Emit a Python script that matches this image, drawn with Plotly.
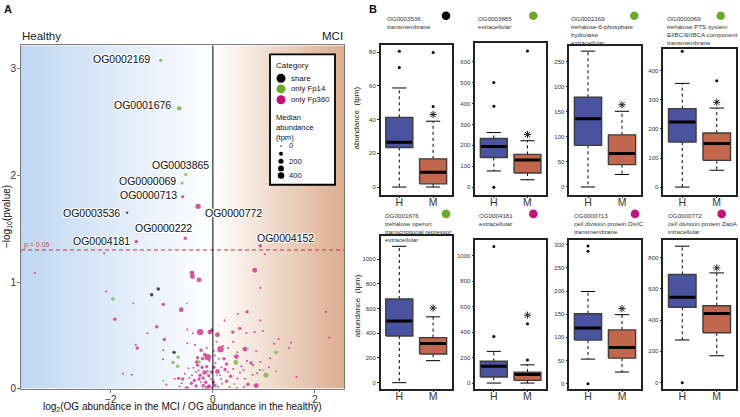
import numpy as np
import plotly.graph_objects as go

W, H = 740, 417
FONT = "Liberation Sans, Arial, Helvetica, sans-serif"


def fx(px):
    return px / W


def fy(py):
    return 1 - py / H


# ---------------- Panel A data ----------------
lab_ids = ["OG0002169", "OG0001676", "OG0003865", "OG0000069", "OG0000713",
           "OG0000772", "OG0003536", "OG0000222", "OG0004181", "OG0004152"]
lab_fc = [-1.02, -0.66, -0.53, -0.60, -0.59, -0.29, -1.68, -0.54, -1.50, 0.93]
lab_p = [3.08, 2.63, 2.01, 1.93, 1.80, 1.71, 1.65, 1.41, 1.38, 1.34]
lab_cat = ["Fp14", "Fp14", "Fp14", "Fp14", "Fp360", "Fp360", "share", "Fp360", "Fp360", "Fp360"]
lab_med = [60, 180, 40, 40, 40, 250, 10, 60, 60, 60]

bg_fc = [-3.77, -3.77, -2.13, 1.02, -3.49, -0.41, -0.40, -0.27, 0.82, 0.93,
         -1.07, -1.20, -2.09, -1.96, -1.56, -0.97, -0.51, -0.62, 0.49, 0.67,
         2.22, -1.92, 0.23, 0.93, -1.10, -0.02, -0.50, -1.28, -0.25, -0.06,
         0.09, -0.39, 0.39, 0.53, 0.66, 0.82, 0.98, 2.28, 1.29, 1.20,
         1.53, -0.95, 0.07, -1.51, -0.50, -0.35, 0.20, 0.15, -1.48, -0.97,
         -0.76, 1.24, 1.49, 0.63, 0.48, 0.85, -0.23, -0.16, -0.68, -0.98,
         -0.30, -0.10, 0.22, 0.46, -0.78, -0.27, 0.45, 0.67, 0.75, 0.27,
         -0.30, -0.21, -0.12, 0.05, -0.69, -0.48, -0.38, 0.99, 1.24, 1.04,
         0.92, 0.60, 0.24, 0.09, -1.76, -1.59, -0.16, -0.10, -0.25, 0.53,
         0.78, 0.87, 0.08, 1.64, 0.35, 0.48, 0.63, -0.97, -0.75, -0.67,
         -0.59, -0.46, -0.36, -0.27, -0.19, -0.04, 0.16, 0.27, 0.42, 0.69,
         0.85, -0.91, -0.65, -0.51, -0.33, -0.19, -0.11, -0.07, 0.04, 0.10,
         0.18, 0.33, 0.47, 0.61, -0.20, -0.02, -0.42, -0.61, -0.28, -0.32,
         -0.20, -0.07, 0.02, -0.03, -0.08, 0.01, -0.14, -0.235, 0.14, 0.30,
         0.40, 0.17, -0.33, -0.55, -0.41, -0.12, 0.02, 0.04, 0.12, 0.40,
         0.30, 0.56, 0.79, 0.93, 1.10, 1.12]
bg_p = [1.28, 1.14, 1.27, 1.26, 1.085, 1.085, 1.05, 1.02, 1.11, 0.945,
        0.935, 0.88, 0.91, 0.84, 0.80, 0.79, 0.80, 0.74, 0.70, 0.72,
        0.72, 0.65, 0.64, 0.64, 0.58, 0.55, 0.555, 0.52, 0.53, 0.53,
        0.505, 0.52, 0.53, 0.565, 0.52, 0.53, 0.54, 0.48, 0.465, 0.42,
        0.43, 0.46, 0.44, 0.41, 0.425, 0.41, 0.40, 0.37, 0.38, 0.36,
        0.34, 0.34, 0.38, 0.37, 0.34, 0.35, 0.36, 0.32, 0.295, 0.275,
        0.29, 0.295, 0.28, 0.30, 0.245, 0.25, 0.245, 0.26, 0.24, 0.23,
        0.22, 0.20, 0.205, 0.24, 0.21, 0.19, 0.195, 0.175, 0.16, 0.125,
        0.175, 0.175, 0.18, 0.16, 0.14, 0.13, 0.15, 0.165, 0.125, 0.15,
        0.13, 0.145, 0.125, 0.11, 0.115, 0.095, 0.093, 0.074, 0.093, 0.096,
        0.09, 0.099, 0.077, 0.09, 0.10, 0.087, 0.09, 0.07, 0.043, 0.04,
        0.028, 0.037, 0.021, 0.0, 0.025, 0.03, 0.006, 0.025, 0.03, 0.018,
        0.046, 0.015, 0.006, 0.015, 0.0, 0.0, 0.05, 0.05, 0.17, 0.25,
        0.28, 0.26, 0.20, 0.155, 0.12, 0.06, 0.06, 0.06, 0.125, 0.155,
        0.185, 0.20, 0.155, 0.14, 0.125, 0.38, 0.355, 0.31, 0.28, 0.44,
        0.38, 0.21, 0.22, 0.25, 0.20, 0.285]
bg_cat = list("mgmmmmmmmm"
              "kkmgmmgmmm"
              "mmmmmmmmmm"
              "mmmmmmmmmm"
              "mmmmmmmmmm"
              "kgmmmmmmgm"
              "mmmmgggmmm"
              "mmmmgmmggg"
              "mmmmmmmmmm"
              "mmgmmmmgmm"
              "mmmmmmmmgm"
              "mmmmmmmmmm"
              "mmmmmmmmmm"
              "mmmmmmmmmm"
              "mmmmmmmmmm"
              "mmmmmm")
bg_med = [5, 5, 5, 5, 5, 180, 180, 180, 180, 5,
          60, 60, 5, 60, 5, 60, 5, 180, 5, 60,
          5, 60, 5, 5, 60, 60, 5, 5, 380, 180,
          180, 5, 60, 60, 5, 5, 5, 5, 5, 5,
          5, 60, 5, 5, 5, 5, 5, 380, 60, 5,
          60, 60, 5, 180, 5, 5, 60, 60, 60, 5,
          60, 380, 60, 180, 60, 60, 180, 5, 60, 60,
          60, 60, 60, 5, 60, 5, 5, 5, 5, 180,
          5, 5, 60, 180, 5, 5, 180, 5, 60, 5,
          5, 5, 5, 5, 60, 5, 5, 5, 5, 60,
          60, 5, 60, 60, 60, 5, 5, 60, 5, 60,
          180, 5, 5, 180, 60, 60, 180, 60, 60, 5,
          5, 5, 5, 5, 5, 60, 60, 5, 5, 60,
          60, 5, 60, 60, 60, 60, 60, 5, 5, 5,
          5, 5, 5, 5, 5, 5, 5, 5, 5, 5,
          5, 5, 5, 5, 5, 5]
cat_code = {"m": "Fp360", "g": "Fp14", "k": "share"}
halo_idx = [5, 6, 7]

p_threshold = 0.05
size_legend_vals = [0, 100, 200, 300, 400]
size_legend_text = ["0", "", "200", "", "400"]

# ---------------- Panel B data ----------------
box_ids = ["OG0003536", "OG0003865", "OG0002169", "OG0000069",
           "OG0001676", "OG0004181", "OG0000713", "OG0000772"]
box_desc = ["transmembrane",
            "extracellular",
            "trehalose-6-phosphate<br>hydrolase<br>extracellular",
            "trehalose PTS system<br>EIIBC/EIIBCA component<br>transmembrane",
            "trehalose operon<br>transcriptional repressor<br>extracellular",
            "extracellular",
            "cell division protein DivIC<br>transmembrane",
            "cell division protein ZapA<br>intracellular"]
box_cat = ["share", "Fp14", "Fp14", "Fp14", "Fp14", "Fp360", "Fp360", "Fp360"]
groups = ["H", "M"]
# [lower whisker, Q1, median, Q3, upper whisker]
h_stats = [[0, 23.4, 26.5, 41.3, 58.7],
           [78, 142, 194, 233, 261],
           [0, 83, 136, 179, 271],
           [0, 155, 224, 270, 357],
           [0, 378, 499, 677, 1104],
           [0, 47, 132, 171, 249],
           [53, 94, 120, 151, 199],
           [273, 482, 547, 692, 873]]
h_out = [[80.5, 70.8], [500, 387, 0], [], [468], [], [1073, 366], [297, 286, 0], [0]]
m_stats = [[0, 1.9, 8.8, 16.7, 39],
           [36, 68, 130, 157, 222],
           [25, 44.5, 67, 104, 151],
           [58, 92, 150, 186, 272],
           [178, 232, 317, 365, 533],
           [0, 21, 68, 86, 143],
           [25, 55, 78, 116, 149],
           [172, 319, 442, 492, 702]]
m_out = [[79.7, 47.7], [650], [], [366], [], [467, 182], [], []]
star_y = [43, 252, 164, 292, 605, 534, 162, 734]
y_tick_max = [80, 600, 250, 400, 1000, 1000, 300, 800]
y_tick_step = [20, 100, 50, 100, 200, 200, 50, 200]

# ---------------- styles ----------------
COL = {"share": "#000000", "Fp14": "#6bab2c", "Fp360": "#c5127b"}
BLUE_BOX = "#4a53a0"
ORANGE_BOX = "#c2664d"


def msize(v):
    return 1.5 + 5.0 * np.sqrt(np.asarray(v, dtype=float) / 400.0)


A_X = (21, 344)
A_Y = (46, 393.3)
A_XR = [-3.76, 2.57]
A_YR = [0, 3.22]

bx_dom = [(380.7, 451.7), (475.3, 546), (569.3, 640.7), (663.3, 735.7)]
by_dom = [(46, 197), (44, 197), (46.7, 197), (50, 197),
          (239.3, 393.3), (243.3, 393.3), (243, 393.3), (243, 393.3)]
by_range = [(-4.5, 83.9), (-35, 686), (-15.3, 281), (-26, 474),
            (-48, 1184), (-43.5, 1122), (-10.7, 310), (-38, 912)]

fig = go.Figure()

# background gradient for panel A
gx = np.linspace(A_XR[0] - 0.1, A_XR[1] + 0.1, 400)
zero_frac = (0 - A_XR[0]) / (A_XR[1] - A_XR[0])
fig.add_trace(go.Heatmap(
    x=gx, y=[-0.2, 3.5], z=[gx, gx], zmin=A_XR[0], zmax=A_XR[1],
    colorscale=[[0, "#bfd7f2"], [zero_frac, "#ffffff"], [1, "#dcad8e"]],
    showscale=False, zsmooth="best", hoverinfo="skip", xaxis="x", yaxis="y"))

# white halo around a few points
fig.add_trace(go.Scatter(
    x=[bg_fc[i] for i in halo_idx], y=[bg_p[i] for i in halo_idx], mode="markers",
    marker=dict(size=16, color="white"), hoverinfo="skip", showlegend=False,
    xaxis="x", yaxis="y"))

all_fc = bg_fc + lab_fc
all_p = bg_p + lab_p
all_cat = [cat_code[c] for c in bg_cat] + lab_cat
all_med = bg_med + lab_med
for cat in ["Fp360", "Fp14", "share"]:
    idx = [i for i, c in enumerate(all_cat) if c == cat]
    fig.add_trace(go.Scatter(
        x=[all_fc[i] for i in idx], y=[all_p[i] for i in idx], mode="markers",
        marker=dict(size=msize([all_med[i] for i in idx]), color=COL[cat],
                    line=dict(width=0)),
        name=cat, showlegend=False, xaxis="x", yaxis="y"))

annotations = []
shapes = []

# threshold and zero lines
thr = -np.log10(p_threshold)
shapes.append(dict(type="line", xref="x", yref="y", x0=A_XR[0], x1=A_XR[1], y0=thr, y1=thr,
                   line=dict(color="#b83a3a", width=1, dash="4px,3px")))
shapes.append(dict(type="line", xref="x", yref="y domain", x0=0, x1=0, y0=0, y1=1,
                   line=dict(color="black", width=1)))
annotations.append(dict(xref="x", yref="y", x=A_XR[0], y=thr, text="p = 0.05",
                        showarrow=False, xanchor="left", yanchor="bottom", xshift=1, yshift=-1,
                        font=dict(size=7, color="#c0504d", family=FONT)))

# point labels
lab_anchor = ["right", "right", "center", "right", "right", "left", "right", "center", "right", "center"]
lab_dx = [-9, -6, -5, -4, -4, 5, -5, -22, -4, 25]
lab_dy = [1, 3, 9, 2, 2, -7, 0, 10, 1, 8]
halo = "-1px -1px 0 #fff, 1px -1px 0 #fff, -1px 1px 0 #fff, 1px 1px 0 #fff"
for i, name in enumerate(lab_ids):
    annotations.append(dict(xref="x", yref="y", x=lab_fc[i], y=lab_p[i], text=name,
                            showarrow=False, xanchor=lab_anchor[i], yanchor="middle",
                            xshift=lab_dx[i], yshift=lab_dy[i],
                            font=dict(size=10.5, color="#111111", family=FONT, shadow=halo)))

# Healthy / MCI
annotations.append(dict(xref="paper", yref="paper", x=fx(20), y=fy(45), text="Healthy",
                        showarrow=False, xanchor="left", yanchor="bottom",
                        font=dict(size=11.5, color="#222", family=FONT)))
annotations.append(dict(xref="paper", yref="paper", x=fx(345), y=fy(45), text="MCI",
                        showarrow=False, xanchor="right", yanchor="bottom",
                        font=dict(size=11.5, color="#222", family=FONT)))

# axis titles of panel A
annotations.append(dict(xref="paper", yref="paper", x=fx((A_X[0] + A_X[1]) / 2), y=fy(412),
                        text="log<sub>2</sub>(OG abundance in the MCI / OG abundance in the healthy)",
                        showarrow=False, xanchor="center", yanchor="middle",
                        font=dict(size=10, color="#111", family=FONT)))
annotations.append(dict(xref="paper", yref="paper", x=fx(7), y=fy((A_Y[0] + A_Y[1]) / 2),
                        text="\u2212log<sub>10</sub>(pvalue)", textangle=-90,
                        showarrow=False, xanchor="center", yanchor="middle",
                        font=dict(size=10, color="#111", family=FONT)))

# custom legend for panel A
shapes.append(dict(type="rect", xref="paper", yref="paper", x0=fx(270), x1=fx(335),
                   y0=fy(187), y1=fy(55), line=dict(color="black", width=1.8),
                   fillcolor="white", layer="above"))
annotations.append(dict(xref="paper", yref="paper", x=fx(274), y=fy(66), text="Category",
                        showarrow=False, xanchor="left", yanchor="middle",
                        font=dict(size=8, color="#111", family=FONT)))
leg_names = ["share", "only Fp14", "only Fp360"]
leg_keys = ["share", "Fp14", "Fp360"]
leg_y = [79.3, 90, 101]
for nm, key, yy in zip(leg_names, leg_keys, leg_y):
    shapes.append(dict(type="circle", xref="paper", yref="paper", xsizemode="pixel",
                       ysizemode="pixel", xanchor=fx(281), yanchor=fy(yy),
                       x0=-4.5, x1=4.5, y0=-4.5, y1=4.5, fillcolor=COL[key],
                       line=dict(width=0), layer="above"))
    annotations.append(dict(xref="paper", yref="paper", x=fx(289), y=fy(yy), text=nm,
                            showarrow=False, xanchor="left", yanchor="middle",
                            font=dict(size=7.8, color="#111", family=FONT)))
annotations.append(dict(xref="paper", yref="paper", x=fx(274), y=fy(112), text="Median<br>abundance<br>(tpm)",
                        showarrow=False, xanchor="left", yanchor="top", align="left",
                        font=dict(size=7.6, color="#111", family=FONT)))
size_y = [147.7, 155.5, 163.3, 170.5, 177.7]
for v, t, yy in zip(size_legend_vals, size_legend_text, size_y):
    r = float(msize(v)) / 2
    shapes.append(dict(type="circle", xref="paper", yref="paper", xsizemode="pixel",
                       ysizemode="pixel", xanchor=fx(281), yanchor=fy(yy),
                       x0=-r, x1=r, y0=-r, y1=r, fillcolor="black",
                       line=dict(width=0), layer="above"))
    if t:
        annotations.append(dict(xref="paper", yref="paper", x=fx(287), y=fy(yy), text=t,
                                showarrow=False, xanchor="left", yanchor="middle",
                                font=dict(size=7.6, color="#111", family=FONT)))

# panel letters
annotations.append(dict(xref="paper", yref="paper", x=fx(2), y=fy(9), text="<b>A</b>",
                        showarrow=False, xanchor="left", yanchor="middle",
                        font=dict(size=11, color="#111", family=FONT)))
annotations.append(dict(xref="paper", yref="paper", x=fx(367), y=fy(9), text="<b>B</b>",
                        showarrow=False, xanchor="left", yanchor="middle",
                        font=dict(size=11, color="#111", family=FONT)))

layout_axes = {}
layout_axes["xaxis"] = dict(domain=[fx(A_X[0]), fx(A_X[1])], range=A_XR, anchor="y",
                            tickvals=[-2, 0, 2], ticktext=["\u22122", "0", "2"],
                            showgrid=False, zeroline=False, showline=True, mirror=True,
                            linecolor="#7a7a7a", linewidth=1, ticks="outside", ticklen=3,
                            tickcolor="#7a7a7a", ticklabelstandoff=-2,
                            tickfont=dict(size=10, color="#333", family=FONT))
layout_axes["yaxis"] = dict(domain=[fy(A_Y[1]), fy(A_Y[0])], range=A_YR, anchor="x",
                            tickvals=[0, 1, 2, 3], showgrid=False, zeroline=False, showline=True,
                            mirror=True, linecolor="#7a7a7a", linewidth=1, ticks="outside",
                            ticklen=3, tickcolor="#7a7a7a", ticklabelstandoff=-1,
                            tickfont=dict(size=10, color="#333", family=FONT))

# ---------------- Panel B boxes ----------------
box_w, cap_w = 0.4, 0.21
for k in range(8):
    n = k + 2
    xa, ya = f"x{n}", f"y{n}"
    col = k % 4
    for g, (stats, outs, fill) in enumerate([(h_stats[k], h_out[k], BLUE_BOX),
                                             (m_stats[k], m_out[k], ORANGE_BOX)]):
        xc = g + 1
        lo, q1, md, q3, hi = stats
        common = dict(xaxis=xa, yaxis=ya, showlegend=False, hoverinfo="skip", mode="lines")
        fig.add_trace(go.Scatter(x=[xc, xc, None, xc, xc], y=[q3, hi, None, q1, lo],
                                 line=dict(color="black", width=1, dash="3px,3px"), **common))
        fig.add_trace(go.Scatter(x=[xc - cap_w, xc + cap_w, None, xc - cap_w, xc + cap_w],
                                 y=[hi, hi, None, lo, lo],
                                 line=dict(color="black", width=1), **common))
        fig.add_trace(go.Scatter(x=[xc - box_w, xc + box_w, xc + box_w, xc - box_w, xc - box_w],
                                 y=[q1, q1, q3, q3, q1], fill="toself", fillcolor=fill,
                                 line=dict(color="#3d3d3d", width=1.4), **common))
        fig.add_trace(go.Scatter(x=[xc - box_w + 0.02, xc + box_w - 0.02], y=[md, md],
                                 line=dict(color="black", width=3), **common))
        if outs:
            fig.add_trace(go.Scatter(x=[xc] * len(outs), y=outs, mode="markers",
                                     marker=dict(size=3, color="black"), xaxis=xa, yaxis=ya,
                                     showlegend=False, hoverinfo="skip"))
    fig.add_trace(go.Scatter(x=[2], y=[star_y[k]], mode="markers",
                             marker=dict(symbol="asterisk-open", size=6, color="#222",
                                         line=dict(color="#222", width=1)),
                             xaxis=xa, yaxis=ya, showlegend=False, hoverinfo="skip"))
    y0, y1 = by_dom[k]
    layout_axes[f"xaxis{n}"] = dict(domain=[fx(bx_dom[col][0]), fx(bx_dom[col][1])],
                                    range=[0.45, 2.55], anchor=ya, tickvals=[1, 2], ticktext=groups,
                                    showgrid=False, zeroline=False, showline=True, mirror=True,
                                    linecolor="#222", linewidth=1.5, ticks="outside", ticklen=2,
                                    tickcolor="#222", ticklabelstandoff=-5,
                                    tickfont=dict(size=10.5, color="#333", family=FONT))
    layout_axes[f"yaxis{n}"] = dict(domain=[fy(y1), fy(y0)], range=list(by_range[k]), anchor=xa,
                                    tickvals=list(range(0, y_tick_max[k] + 1, y_tick_step[k])),
                                    showgrid=False, zeroline=False, showline=True, mirror=True,
                                    linecolor="#222", linewidth=1.5, ticks="outside", ticklen=2,
                                    tickcolor="#222", tickfont=dict(size=6, color="#333", family=FONT))

# titles of box panels
title_x = [385, 476, 569.3, 665, 382.7, 476.7, 572.3, 666]
dot_x = [446, 533.3, 634.3, 720.7, 446, 533.3, 635, 721.7]
for k in range(8):
    top = 13 if k < 4 else 212.5
    cy = 16 if k < 4 else 216.5
    annotations.append(dict(xref="paper", yref="paper", x=fx(title_x[k]), y=fy(top),
                            text=f"{box_ids[k]}<br>{box_desc[k]}", showarrow=False,
                            xanchor="left", yanchor="top", align="left",
                            font=dict(size=6.2, color="#333", family=FONT)))
    shapes.append(dict(type="circle", xref="paper", yref="paper", xsizemode="pixel",
                       ysizemode="pixel", xanchor=fx(dot_x[k]), yanchor=fy(cy),
                       x0=-4.3, x1=4.3, y0=-4.3, y1=4.3, fillcolor=COL[box_cat[k]],
                       line=dict(width=0)))

for cy in [120, 310]:
    annotations.append(dict(xref="paper", yref="paper", x=fx(357), y=fy(cy), text="abundance  (tpm)",
                            showarrow=False, textangle=-90, xanchor="center", yanchor="middle",
                            font=dict(size=8, color="#222", family=FONT)))

fig.update_layout(width=W, height=H, margin=dict(l=0, r=0, t=0, b=0),
                  paper_bgcolor="white", plot_bgcolor="white",
                  font=dict(family=FONT), showlegend=False,
                  annotations=annotations, shapes=shapes, **layout_axes)

fig.write_html("out.html", config={"displayModeBar": False},
               post_script="document.body.style.margin='0px';document.body.style.overflow='hidden';")
